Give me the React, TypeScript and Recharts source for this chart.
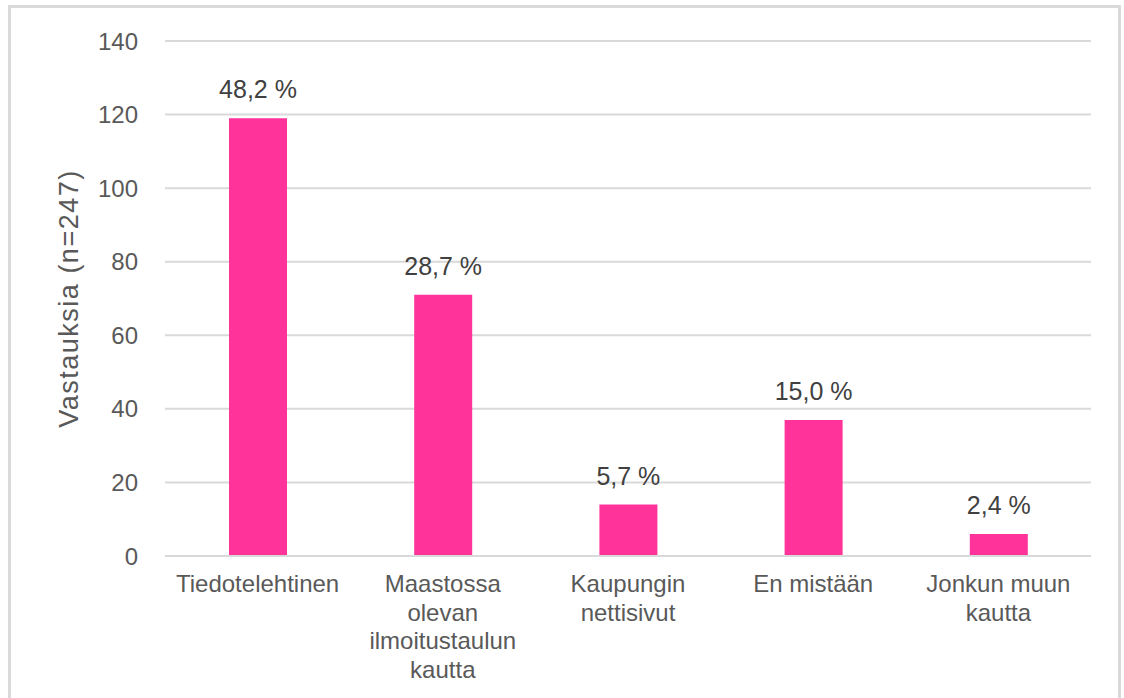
import { BarChart, Bar, XAxis, YAxis, CartesianGrid, LabelList } from "recharts";

const categories = [
  "Tiedotelehtinen",
  "Maastossa\nolevan\nilmoitustaulun\nkautta",
  "Kaupungin\nnettisivut",
  "En mistään",
  "Jonkun muun\nkautta",
];
const counts = [119, 71, 14, 37, 6];
const shares = ["48,2 %", "28,7 %", "5,7 %", "15,0 %", "2,4 %"];
const yTicks = [0, 20, 40, 60, 80, 100, 120, 140];
const yTitle = "Vastauksia (n=247)";

const data = categories.map((name, i) => ({ name, count: counts[i], share: shares[i] }));

const FONT = "'Liberation Sans', Arial, sans-serif";

function CategoryTick(props: any) {
  const { x, y, payload } = props;
  const lines = String(payload.value).split("\n");
  return (
    <text x={x} y={y} textAnchor="middle" fill="#595959" fontSize={24} fontFamily={FONT}>
      {lines.map((line, i) => (
        <tspan key={i} x={x} dy={i === 0 ? 34 : 28.5}>
          {line}
        </tspan>
      ))}
    </text>
  );
}

function AxisTitle(props: any) {
  const { x, y, height } = props.viewBox;
  const cx = x + 69;
  const cy = y + height / 2;
  return (
    <text
      x={cx}
      y={cy}
      transform={`rotate(-90, ${cx}, ${cy})`}
      textAnchor="middle"
      dominantBaseline="central"
      fill="#595959"
      fontSize={27}
      letterSpacing={1.5}
      fontFamily={FONT}
    >
      {yTitle}
    </text>
  );
}

export default function App() {
  return (
    <div style={{ position: "absolute", left: 0, top: 0, width: 1124, height: 698, background: "#fff", overflow: "hidden" }}>
      <div
        style={{
          position: "absolute",
          left: 8,
          top: 5,
          width: 1113,
          height: 720,
          border: "3px solid #d9d9d9",
          boxSizing: "border-box",
        }}
      />
      <div style={{ position: "absolute", left: 0, top: 0 }}>
        <BarChart width={1124} height={698} data={data} margin={{ top: 41, right: 33, bottom: 0, left: 0 }} barSize={58}>
          <CartesianGrid vertical={false} stroke="#d9d9d9" strokeWidth={2} />
          <XAxis
            dataKey="name"
            interval={0}
            height={142}
            tickLine={false}
            tickSize={0}
            axisLine={{ stroke: "#d9d9d9", strokeWidth: 2 }}
            tick={<CategoryTick />}
          />
          <YAxis
            width={165}
            domain={[0, 140]}
            ticks={yTicks}
            axisLine={false}
            tickLine={false}
            tickSize={0}
            tickMargin={27}
            tick={{ fill: "#595959", fontSize: 24, fontFamily: FONT }}
            label={<AxisTitle />}
          />
          <Bar dataKey="count" fill="#ff3399" isAnimationActive={false}>
            <LabelList dataKey="share" position="top" offset={20} fill="#404040" fontSize={25} fontFamily={FONT} />
          </Bar>
        </BarChart>
      </div>
    </div>
  );
}
